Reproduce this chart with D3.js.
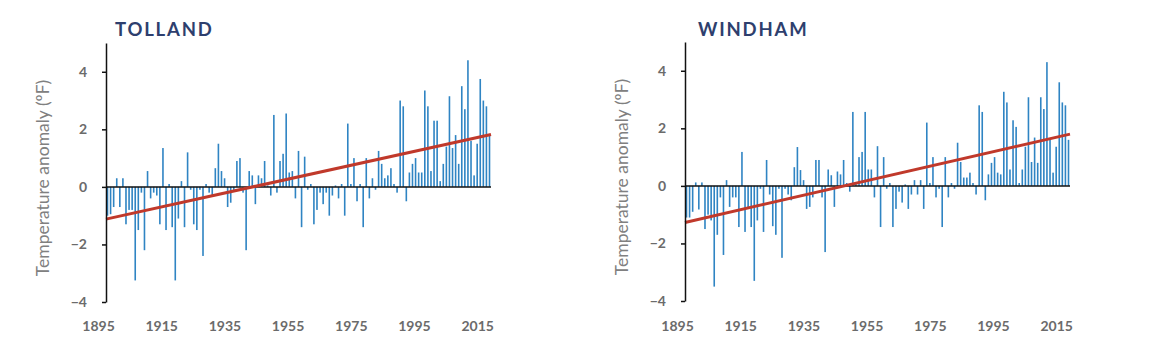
<!DOCTYPE html>
<html>
<head>
<meta charset="utf-8">
<script src="https://cdnjs.cloudflare.com/ajax/libs/d3/7.8.5/d3.min.js"></script>
<style>
  body { margin: 0; background: #fff; }
  svg text { font-family: Lato, 'Open Sans', sans-serif; }
</style>
</head>
<body>
<div id="chart"></div>
<script>
// one bar per year
const years = d3.range(1895, 2020)
const tickYears = [1895, 1915, 1935, 1955, 1975, 1995, 2015]
const yTicks = [-4, -2, 0, 2, 4]

// annual temperature anomaly (ºF)
const tolland = [
  -1.0, -0.95, -0.7, 0.3, -0.7, 0.3, -1.3, -0.8, -0.8, -3.25,
  -1.5, -0.2, -2.2, 0.55, -0.4, -0.2, -0.3, -1.3, 1.35, -1.5,
  0.1, -1.4, -3.25, -1.1, 0.2, -1.4, 1.2, -0.1, -1.3, -1.5,
  -0.1, -2.4, 0.1, -0.2, -0.3, 0.65, 1.5, 0.55, 0.3, -0.7,
  -0.55, -0.15, 0.9, 1.0, -0.2, -2.2, 0.55, 0.4, -0.6, 0.4,
  0.3, 0.9, 0.05, -0.3, 2.5, -0.2, 0.9, 1.15, 2.55, 0.5,
  0.55, -0.4, 1.25, -1.4, 1.05, -0.1, 0.1, -1.3, -0.8, -0.2,
  -0.6, -0.2, -1.0, -0.3, 0.05, -0.4, 0.1, -1.0, 2.2, 0.1,
  1.0, -0.5, 0.1, -1.4, 1.0, -0.4, 0.3, -0.1, 1.25, 0.8,
  0.3, 0.4, 0.65, 0.1, -0.2, 3.0, 2.8, -0.5, 0.5, 0.8,
  1.0, 0.5, 0.5, 3.35, 2.8, 0.55, 2.3, 2.3, 0.2, 0.8,
  1.4, 3.15, 1.35, 1.8, 0.8, 3.5, 2.7, 4.4, 1.6, 0.4,
  1.5, 3.75, 3.0, 2.8, 1.8
]

const windham = [
  -1.1, -1.1, -0.9, 0.12, -0.82, 0.12, -1.5, -1.0, -1.2, -3.5,
  -1.7, -0.4, -2.4, 0.2, -0.73, -0.4, -0.4, -1.43, 1.18, -1.6,
  -0.8, -1.43, -3.3, -1.2, -0.1, -1.6, 0.9, -0.3, -1.4, -1.7,
  -0.1, -2.5, -0.1, -0.3, -0.5, 0.65, 1.35, 0.55, 0.2, -0.8,
  -0.73, -0.4, 0.9, 0.9, -0.4, -2.3, 0.57, 0.37, -0.73, 0.5,
  0.4, 0.9, 0.1, -0.2, 2.57, 0.1, 1.0, 1.18, 2.57, 0.57,
  0.57, -0.4, 1.38, -1.43, 1.0, -0.1, 0.1, -1.43, -0.8, -0.2,
  -0.58, 0.05, -0.8, -0.3, 0.2, -0.3, 0.2, -0.8, 2.2, 0.1,
  1.0, -0.4, -0.1, -1.43, 1.0, -0.4, 0.1, -0.1, 1.5, 0.83,
  0.29, 0.29, 0.46, 0.1, -0.3, 2.8, 2.57, -0.5, 0.4, 0.8,
  1.0, 0.46, 0.4, 3.27, 2.9, 0.57, 2.28, 2.05, 0.1, 0.57,
  1.36, 3.08, 0.83, 1.68, 0.8, 3.08, 2.67, 4.3, 1.6, 0.46,
  1.36, 3.6, 2.9, 2.8, 1.6
]

// trend line values at first and last year
const tollandTrend = [-1.12, 1.82]
const windhamTrend = [-1.27, 1.8]

const width = 1151
const height = 362
const plotWidth = 385
const plotHeight = 259

const svg = d3
  .select('#chart')
  .append('svg')
  .attr('width', width)
  .attr('height', height)

const panels = [
  { name: 'TOLLAND', values: tolland, trend: tollandTrend, left: 106, top: 43, titleX: 115 },
  { name: 'WINDHAM', values: windham, trend: windhamTrend, left: 685, top: 42, titleX: 698 }
]

panels.forEach(drawPanel)

function drawPanel(p) {
  const g = svg.append('g')

  const xPositionScale = d3
    .scaleLinear()
    .domain([1895, 2019])
    .range([p.left + 1.5, p.left + plotWidth - 1.5])

  // the year labels sit a little wider than the bars
  const xLabelScale = d3
    .scaleLinear()
    .domain([1895, 2015])
    .range([p.left - 8, xPositionScale(2015)])

  const yPositionScale = d3
    .scaleLinear()
    .domain([-4, 5])
    .range([p.top + plotHeight, p.top])

  const zero = yPositionScale(0)

  g.selectAll('.bar')
    .data(years)
    .enter()
    .append('rect')
    .attr('class', 'bar')
    .attr('x', d => xPositionScale(d) - 0.8)
    .attr('width', 1.6)
    .attr('y', (d, i) => Math.min(yPositionScale(p.values[i]), zero))
    .attr('height', (d, i) => Math.abs(yPositionScale(p.values[i]) - zero))
    .attr('fill', '#2f84c3')

  // baseline at zero
  g.append('line')
    .attr('x1', p.left)
    .attr('x2', p.left + plotWidth)
    .attr('y1', zero)
    .attr('y2', zero)
    .attr('stroke', '#111')
    .attr('stroke-width', 1.5)

  // trend
  g.append('line')
    .attr('x1', p.left)
    .attr('x2', p.left + plotWidth)
    .attr('y1', yPositionScale(p.trend[0]))
    .attr('y2', yPositionScale(p.trend[1]))
    .attr('stroke', '#c0392b')
    .attr('stroke-width', 3)

  const yAxis = d3
    .axisLeft(yPositionScale)
    .tickValues(yTicks)
    .tickSize(4)
    .tickSizeOuter(0)
    .tickPadding(15)

  const ya = g
    .append('g')
    .attr('class', 'axis y-axis')
    .attr('transform', 'translate(' + p.left + ',0)')
    .call(yAxis)

  ya.select('.domain').attr('stroke', '#111').attr('stroke-width', 1.5)
  ya.selectAll('.tick line').attr('stroke', '#111').attr('stroke-width', 1.5)
  ya.selectAll('.tick text')
    .attr('fill', '#6b6b6b')
    .style('font-size', '14px')
    .style('font-weight', 'bold')

  const xAxis = d3
    .axisBottom(xLabelScale)
    .tickValues(tickYears)
    .tickFormat(d3.format('d'))
    .tickSize(0)

  const xa = g
    .append('g')
    .attr('class', 'axis x-axis')
    .attr('transform', 'translate(0,318)')
    .call(xAxis)

  xa.select('.domain').remove()
  xa.selectAll('.tick text')
    .attr('fill', '#6b6b6b')
    .style('font-size', '14px')
    .style('font-weight', 'bold')

  // axis title
  g.append('text')
    .attr('transform', 'translate(' + (p.left - 57) + ',' + (p.top + 135) + ') rotate(-90)')
    .attr('text-anchor', 'middle')
    .attr('fill', '#808080')
    .style('font-size', '17.5px')
    .text('Temperature anomaly (ºF)')

  // county name
  g.append('text')
    .attr('x', p.titleX)
    .attr('y', 36)
    .attr('fill', '#2e3f6e')
    .style('font-size', '18.5px')
    .style('font-weight', 'bold')
    .style('letter-spacing', '1.8px')
    .text(p.name)
}
</script>
</body>
</html>
